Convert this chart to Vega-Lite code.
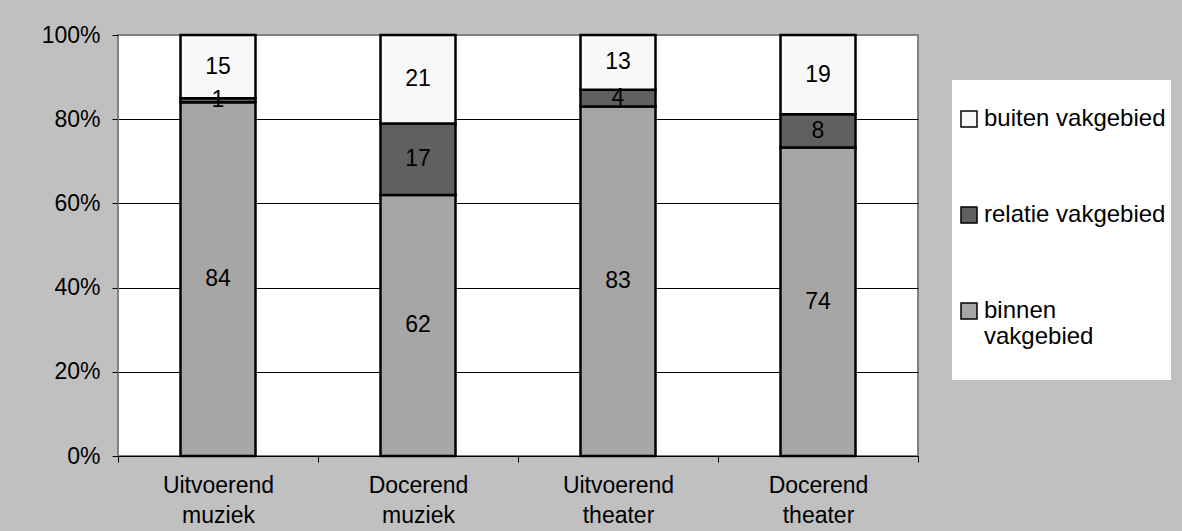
{
  "$schema": "https://vega.github.io/schema/vega-lite/v6.json",
  "width": 800,
  "height": 421,
  "autosize": {"type": "none"},
  "padding": {"left": 118, "top": 35, "right": 264, "bottom": 75},
  "background": "#c0c0c0",
  "config": {
    "view": {"fill": "white", "stroke": "#808080", "strokeWidth": 2},
    "font": "Liberation Sans"
  },
  "data": {
    "values": [
      {"prog": "Uitvoerend muziek", "cat": "binnen vakgebied", "v": 84},
      {"prog": "Uitvoerend muziek", "cat": "relatie vakgebied", "v": 1},
      {"prog": "Uitvoerend muziek", "cat": "buiten vakgebied", "v": 15},
      {"prog": "Docerend muziek", "cat": "binnen vakgebied", "v": 62},
      {"prog": "Docerend muziek", "cat": "relatie vakgebied", "v": 17},
      {"prog": "Docerend muziek", "cat": "buiten vakgebied", "v": 21},
      {"prog": "Uitvoerend theater", "cat": "binnen vakgebied", "v": 83},
      {"prog": "Uitvoerend theater", "cat": "relatie vakgebied", "v": 4},
      {"prog": "Uitvoerend theater", "cat": "buiten vakgebied", "v": 13},
      {"prog": "Docerend theater", "cat": "binnen vakgebied", "v": 74},
      {"prog": "Docerend theater", "cat": "relatie vakgebied", "v": 8},
      {"prog": "Docerend theater", "cat": "buiten vakgebied", "v": 19}
    ]
  },
  "transform": [
    {"calculate": "indexof(['binnen vakgebied','relatie vakgebied','buiten vakgebied'], datum.cat)", "as": "ord"},
    {"stack": "v", "groupby": ["prog"], "sort": [{"field": "ord", "order": "ascending"}], "offset": "normalize", "as": ["y0", "y1"]},
    {"calculate": "(datum.y0 + datum.y1) / 2", "as": "mid"}
  ],
  "encoding": {
    "x": {
      "field": "prog", "type": "nominal", "sort": null,
      "scale": {"paddingInner": 0, "paddingOuter": 0},
      "axis": {
        "title": null, "labelAngle": 0, "tickBand": "extent",
        "labelExpr": "split(datum.label, ' ')",
        "labelFontSize": 23, "labelColor": "#000", "labelLineHeight": 30,
        "labelPadding": 12, "tickSize": 6, "tickColor": "#000", "domainColor": "#000",
        "labelBaseline": "top"
      }
    }
  },
  "layer": [
    {
      "mark": {"type": "bar", "width": {"band": 0.375}, "stroke": "#000", "strokeWidth": 2.5},
      "encoding": {
        "y": {
          "field": "y0", "type": "quantitative",
          "scale": {"domain": [0, 1]},
          "axis": {
            "title": null, "format": ".0%", "values": [0, 0.2, 0.4, 0.6, 0.8, 1],
            "labelFontSize": 23, "labelColor": "#000", "labelPadding": 12,
            "tickSize": 6, "tickColor": "#000", "domainColor": "#808080",
            "grid": true, "gridColor": {"condition": {"test": "datum.value == 1 || datum.value == 0", "value": "#808080"}, "value": "#000"},
            "gridWidth": 1
          }
        },
        "y2": {"field": "y1"},
        "color": {
          "field": "cat", "type": "nominal",
          "scale": {"domain": ["buiten vakgebied", "relatie vakgebied", "binnen vakgebied"], "range": ["#f8f8f8", "#606060", "#a6a6a6"]},
          "legend": {
            "title": " ", "titleFontSize": 16, "titlePadding": 6,
            "orient": "none", "legendX": 834, "legendY": 45,
            "fillColor": "white", "padding": 5,
            "symbolType": "square", "symbolSize": 256, "symbolStrokeColor": "#000", "symbolStrokeWidth": 1.5,
            "labelFontSize": 24, "labelColor": "#000", "labelLineHeight": 30, "labelOffset": 3,
            "rowPadding": 72, "labelLimit": 300,
            "labelExpr": "datum.label == 'binnen vakgebied' ? ['binnen', 'vakgebied', ' '] : datum.label"
          }
        }
      }
    },
    {
      "mark": {"type": "text", "fontSize": 23, "color": "#000", "baseline": "middle"},
      "encoding": {
        "y": {"field": "mid", "type": "quantitative"},
        "text": {"field": "v", "type": "quantitative"}
      }
    }
  ]
}
